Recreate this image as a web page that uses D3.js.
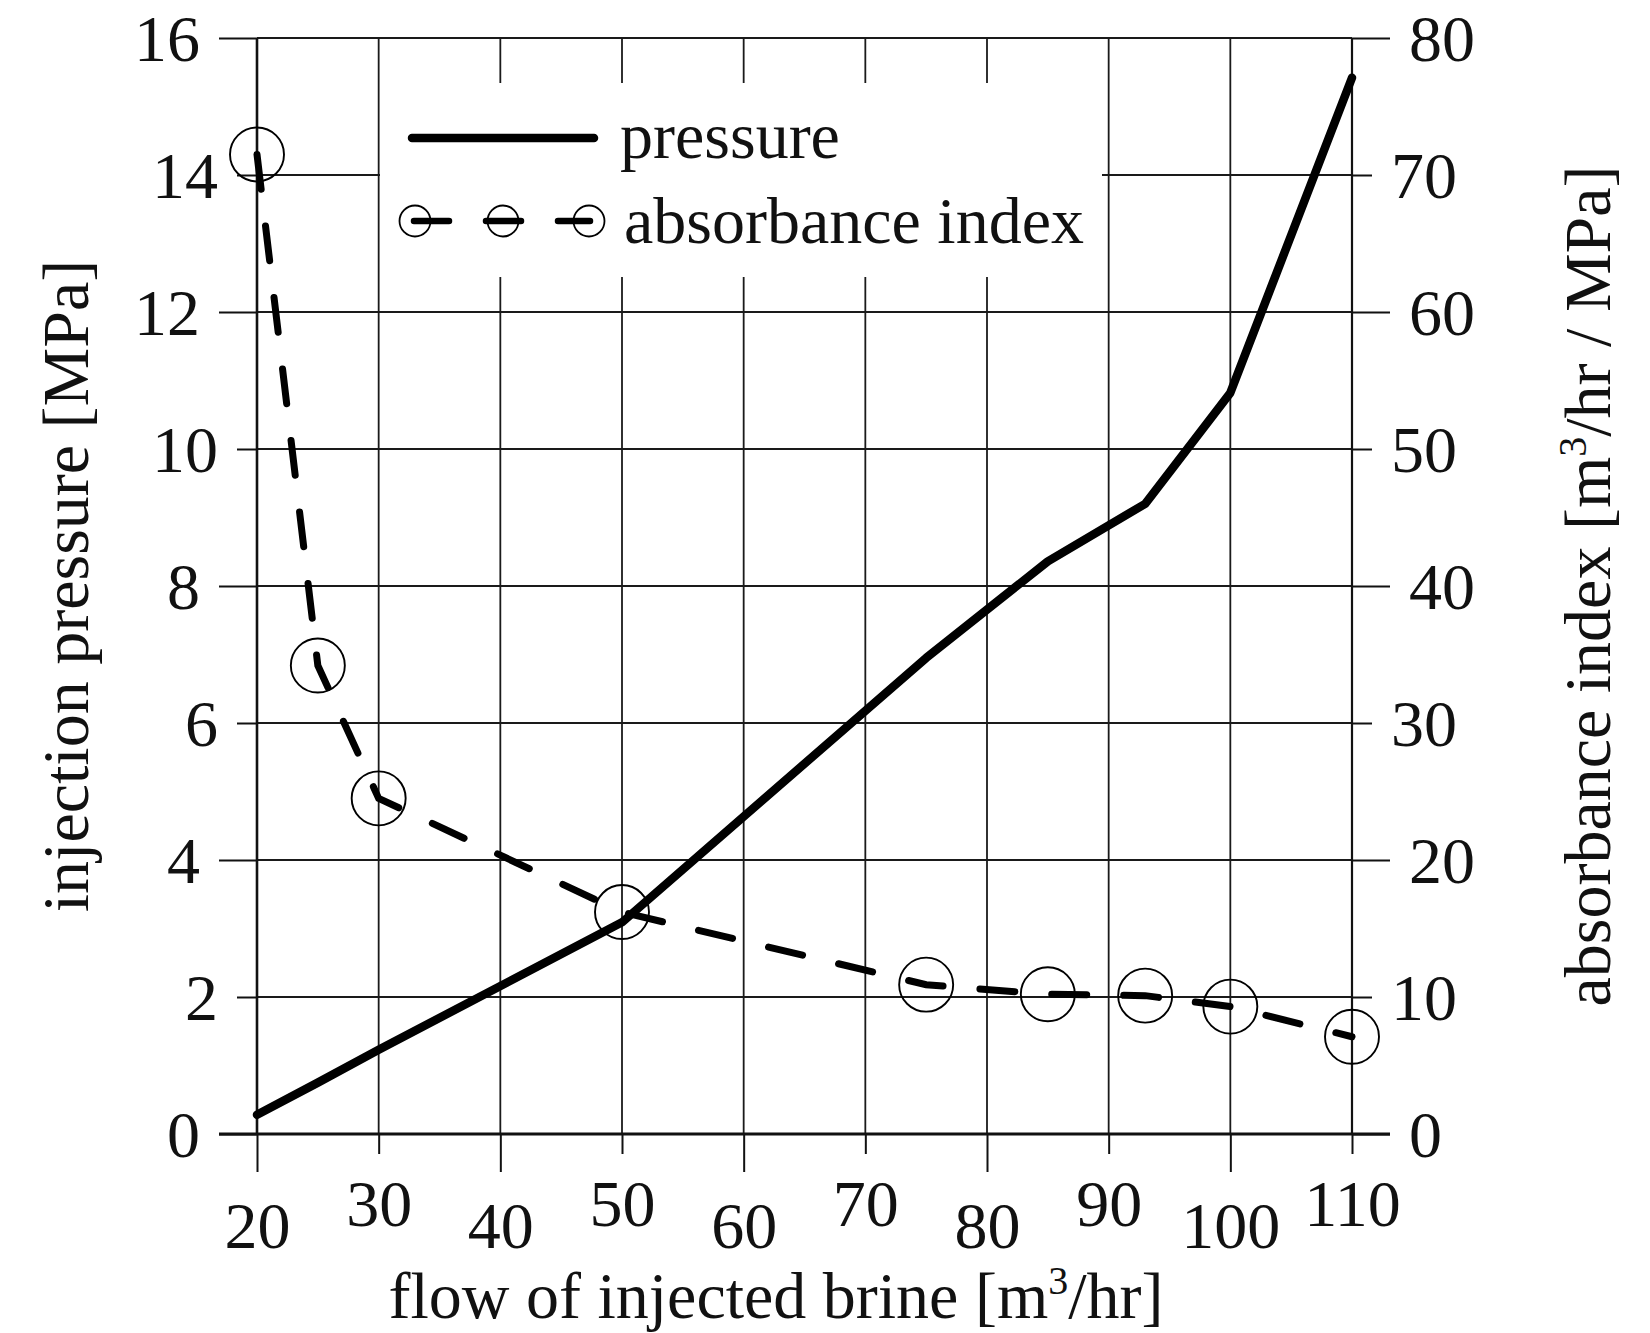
<!DOCTYPE html>
<html>
<head>
<meta charset="utf-8">
<script src="https://cdn.jsdelivr.net/npm/d3@7"></script>
<style>
  body { margin: 0; background: #ffffff; }
  svg text { font-family: "Liberation Serif", "Times New Roman", serif; fill: #111; }
</style>
</head>
<body>
<div id="chart"></div>
<script>
// values
const flowValues = [20, 25, 30, 50, 75, 85, 93, 100, 110];
const pressureValues = [0.28, 0.75, 1.23, 3.09, 6.95, 8.36, 9.2, 10.82, 15.42];
const absorbanceValues = [71.5, 34.2, 24.5, 16.2, 10.9, 10.2, 10.1, 9.3, 7.1];

const xTicks = [20, 30, 40, 50, 60, 70, 80, 90, 100, 110];
const yLeftTicks = [0, 2, 4, 6, 8, 10, 12, 14, 16];
const yRightTicks = [0, 10, 20, 30, 40, 50, 60, 70, 80];
const legendLabels = ["pressure", "absorbance index"];

const width = 1650, height = 1333;
const margin = { top: 38, left: 257, right: 298, bottom: 199 };
const fontSize = 66;
const longTick = 38, shortTick = 20;

var svg = d3.select("#chart")
    .append("svg")
    .attr("width", width)
    .attr("height", height);

var x = d3.scaleLinear()
    .domain([20, 110])
    .range([margin.left, width - margin.right]);

var yLeft = d3.scaleLinear()
    .domain([0, 16])
    .range([height - margin.bottom, margin.top]);

var yRight = d3.scaleLinear()
    .domain([0, 80])
    .range([height - margin.bottom, margin.top]);

var x0 = x.range()[0], x1 = x.range()[1];
var y0 = yLeft.range()[0], y1 = yLeft.range()[1];

// grid
var grid = svg.append("g").attr("class", "grid")
    .attr("stroke", "#1a1a1a")
    .attr("stroke-width", 1.8);

grid.selectAll("line.h")
    .data(yLeftTicks)
    .enter().append("line")
    .attr("class", "h")
    .attr("x1", x0).attr("x2", x1)
    .attr("y1", d => yLeft(d)).attr("y2", d => yLeft(d));

grid.selectAll("line.v")
    .data(xTicks)
    .enter().append("line")
    .attr("class", "v")
    .attr("x1", d => x(d)).attr("x2", d => x(d))
    .attr("y1", y1).attr("y2", y0);

// legend sits on a white patch over the grid
var legend = svg.append("g").attr("class", "legend");
legend.append("rect")
    .attr("x", 380).attr("y", 83)
    .attr("width", 722).attr("height", 194)
    .attr("fill", "#fff");

legend.append("line")
    .attr("x1", 412).attr("x2", 594)
    .attr("y1", 138).attr("y2", 138)
    .attr("stroke", "#000").attr("stroke-width", 8.5)
    .attr("stroke-linecap", "round");

legend.append("line")
    .attr("x1", 414).attr("x2", 590)
    .attr("y1", 221).attr("y2", 221)
    .attr("stroke", "#000").attr("stroke-width", 6.5)
    .attr("stroke-linecap", "round")
    .attr("stroke-dasharray", "35,37");

legend.selectAll("circle")
    .data([415, 503, 589])
    .enter().append("circle")
    .attr("cx", d => d).attr("cy", 221).attr("r", 15.5)
    .attr("fill", "none").attr("stroke", "#000").attr("stroke-width", 1.8);

legend.selectAll("text")
    .data(legendLabels)
    .enter().append("text")
    .attr("x", (d, i) => i == 0 ? 620 : 624)
    .attr("y", (d, i) => i == 0 ? 158 : 243)
    .style("font-size", fontSize + "px")
    .text(d => d);

// axes
function styleTicks(g) {
    g.selectAll(".tick line")
        .attr("stroke", "#111")
        .attr("stroke-width", 2);
    g.select(".domain").remove();
    g.selectAll(".tick text")
        .style("font-size", fontSize + "px")
        .attr("fill", "#111");
}

var leftAxis = svg.append("g")
    .attr("transform", `translate(${x0},0)`)
    .call(d3.axisLeft(yLeft).tickValues(yLeftTicks).tickSize(longTick).tickSizeOuter(0))
    .call(g => styleTicks(g));
leftAxis.selectAll(".tick").each(function (d) {
    var t = d3.select(this);
    var len = (yLeftTicks.indexOf(d) % 2 == 0) ? longTick : shortTick;
    t.select("line").attr("x2", -len);
    t.select("text").attr("x", -len - 19).attr("dy", "0.34em");
});

var rightAxis = svg.append("g")
    .attr("transform", `translate(${x1},0)`)
    .call(d3.axisRight(yRight).tickValues(yRightTicks).tickSize(longTick).tickSizeOuter(0))
    .call(g => styleTicks(g));
rightAxis.selectAll(".tick").each(function (d) {
    var t = d3.select(this);
    var len = (yRightTicks.indexOf(d) % 2 == 0) ? longTick : shortTick;
    t.select("line").attr("x2", len);
    t.select("text").attr("x", len + 19).attr("dy", "0.34em");
});

var bottomAxis = svg.append("g")
    .attr("transform", `translate(0,${y0})`)
    .call(d3.axisBottom(x).tickValues(xTicks).tickSize(longTick).tickSizeOuter(0))
    .call(g => styleTicks(g));
bottomAxis.selectAll(".tick").each(function (d) {
    var t = d3.select(this);
    var even = xTicks.indexOf(d) % 2 == 0;
    t.select("line").attr("y2", even ? longTick : shortTick);
    t.select("text").attr("dy", null).attr("y", even ? 114 : 92);
});

// axis lines
svg.append("line")
    .attr("x1", x0).attr("x2", x0).attr("y1", y1).attr("y2", y0)
    .attr("stroke", "#111").attr("stroke-width", 2.6);
svg.append("line")
    .attr("x1", x1).attr("x2", x1).attr("y1", y1).attr("y2", y0)
    .attr("stroke", "#111").attr("stroke-width", 2.2);
svg.append("line")
    .attr("x1", x0 - longTick).attr("x2", x1 + longTick).attr("y1", y0).attr("y2", y0)
    .attr("stroke", "#111").attr("stroke-width", 3.2);

// series
var pressureLine = d3.line()
    .x((d, i) => x(flowValues[i]))
    .y(d => yLeft(d));

var absorbanceLine = d3.line()
    .x((d, i) => x(flowValues[i]))
    .y(d => yRight(d));

svg.append("path")
    .datum(pressureValues)
    .attr("d", pressureLine)
    .attr("fill", "none")
    .attr("stroke", "#000")
    .attr("stroke-width", 8.5)
    .attr("stroke-linejoin", "round")
    .attr("stroke-linecap", "round");

svg.append("path")
    .datum(absorbanceValues)
    .attr("d", absorbanceLine)
    .attr("fill", "none")
    .attr("stroke", "#000")
    .attr("stroke-width", 7)
    .attr("stroke-linecap", "round")
    .attr("stroke-dasharray", "35,37");

svg.selectAll("circle.marker")
    .data(absorbanceValues)
    .enter().append("circle")
    .attr("class", "marker")
    .attr("cx", (d, i) => x(flowValues[i]))
    .attr("cy", d => yRight(d))
    .attr("r", 27)
    .attr("fill", "none")
    .attr("stroke", "#000")
    .attr("stroke-width", 1.9);

// axis titles
svg.append("text")
    .attr("x", 776)
    .attr("y", 1318)
    .attr("text-anchor", "middle")
    .style("font-size", fontSize + "px")
    .call(t => {
        t.append("tspan").text("flow of injected brine [m");
        t.append("tspan").attr("dy", -24).style("font-size", "40px").text("3");
        t.append("tspan").attr("dy", 24).text("/hr]");
    });

svg.append("text")
    .attr("transform", "translate(88," + ((y0 + y1) / 2) + ") rotate(-90)")
    .attr("text-anchor", "middle")
    .style("font-size", fontSize + "px")
    .text("injection pressure [MPa]");

svg.append("text")
    .attr("transform", "translate(1610," + ((y0 + y1) / 2) + ") rotate(-90)")
    .attr("text-anchor", "middle")
    .style("font-size", fontSize + "px")
    .call(t => {
        t.append("tspan").text("absorbance index [m");
        t.append("tspan").attr("dy", -24).style("font-size", "40px").text("3");
        t.append("tspan").attr("dy", 24).text("/hr / MPa]");
    });
</script>
</body>
</html>
